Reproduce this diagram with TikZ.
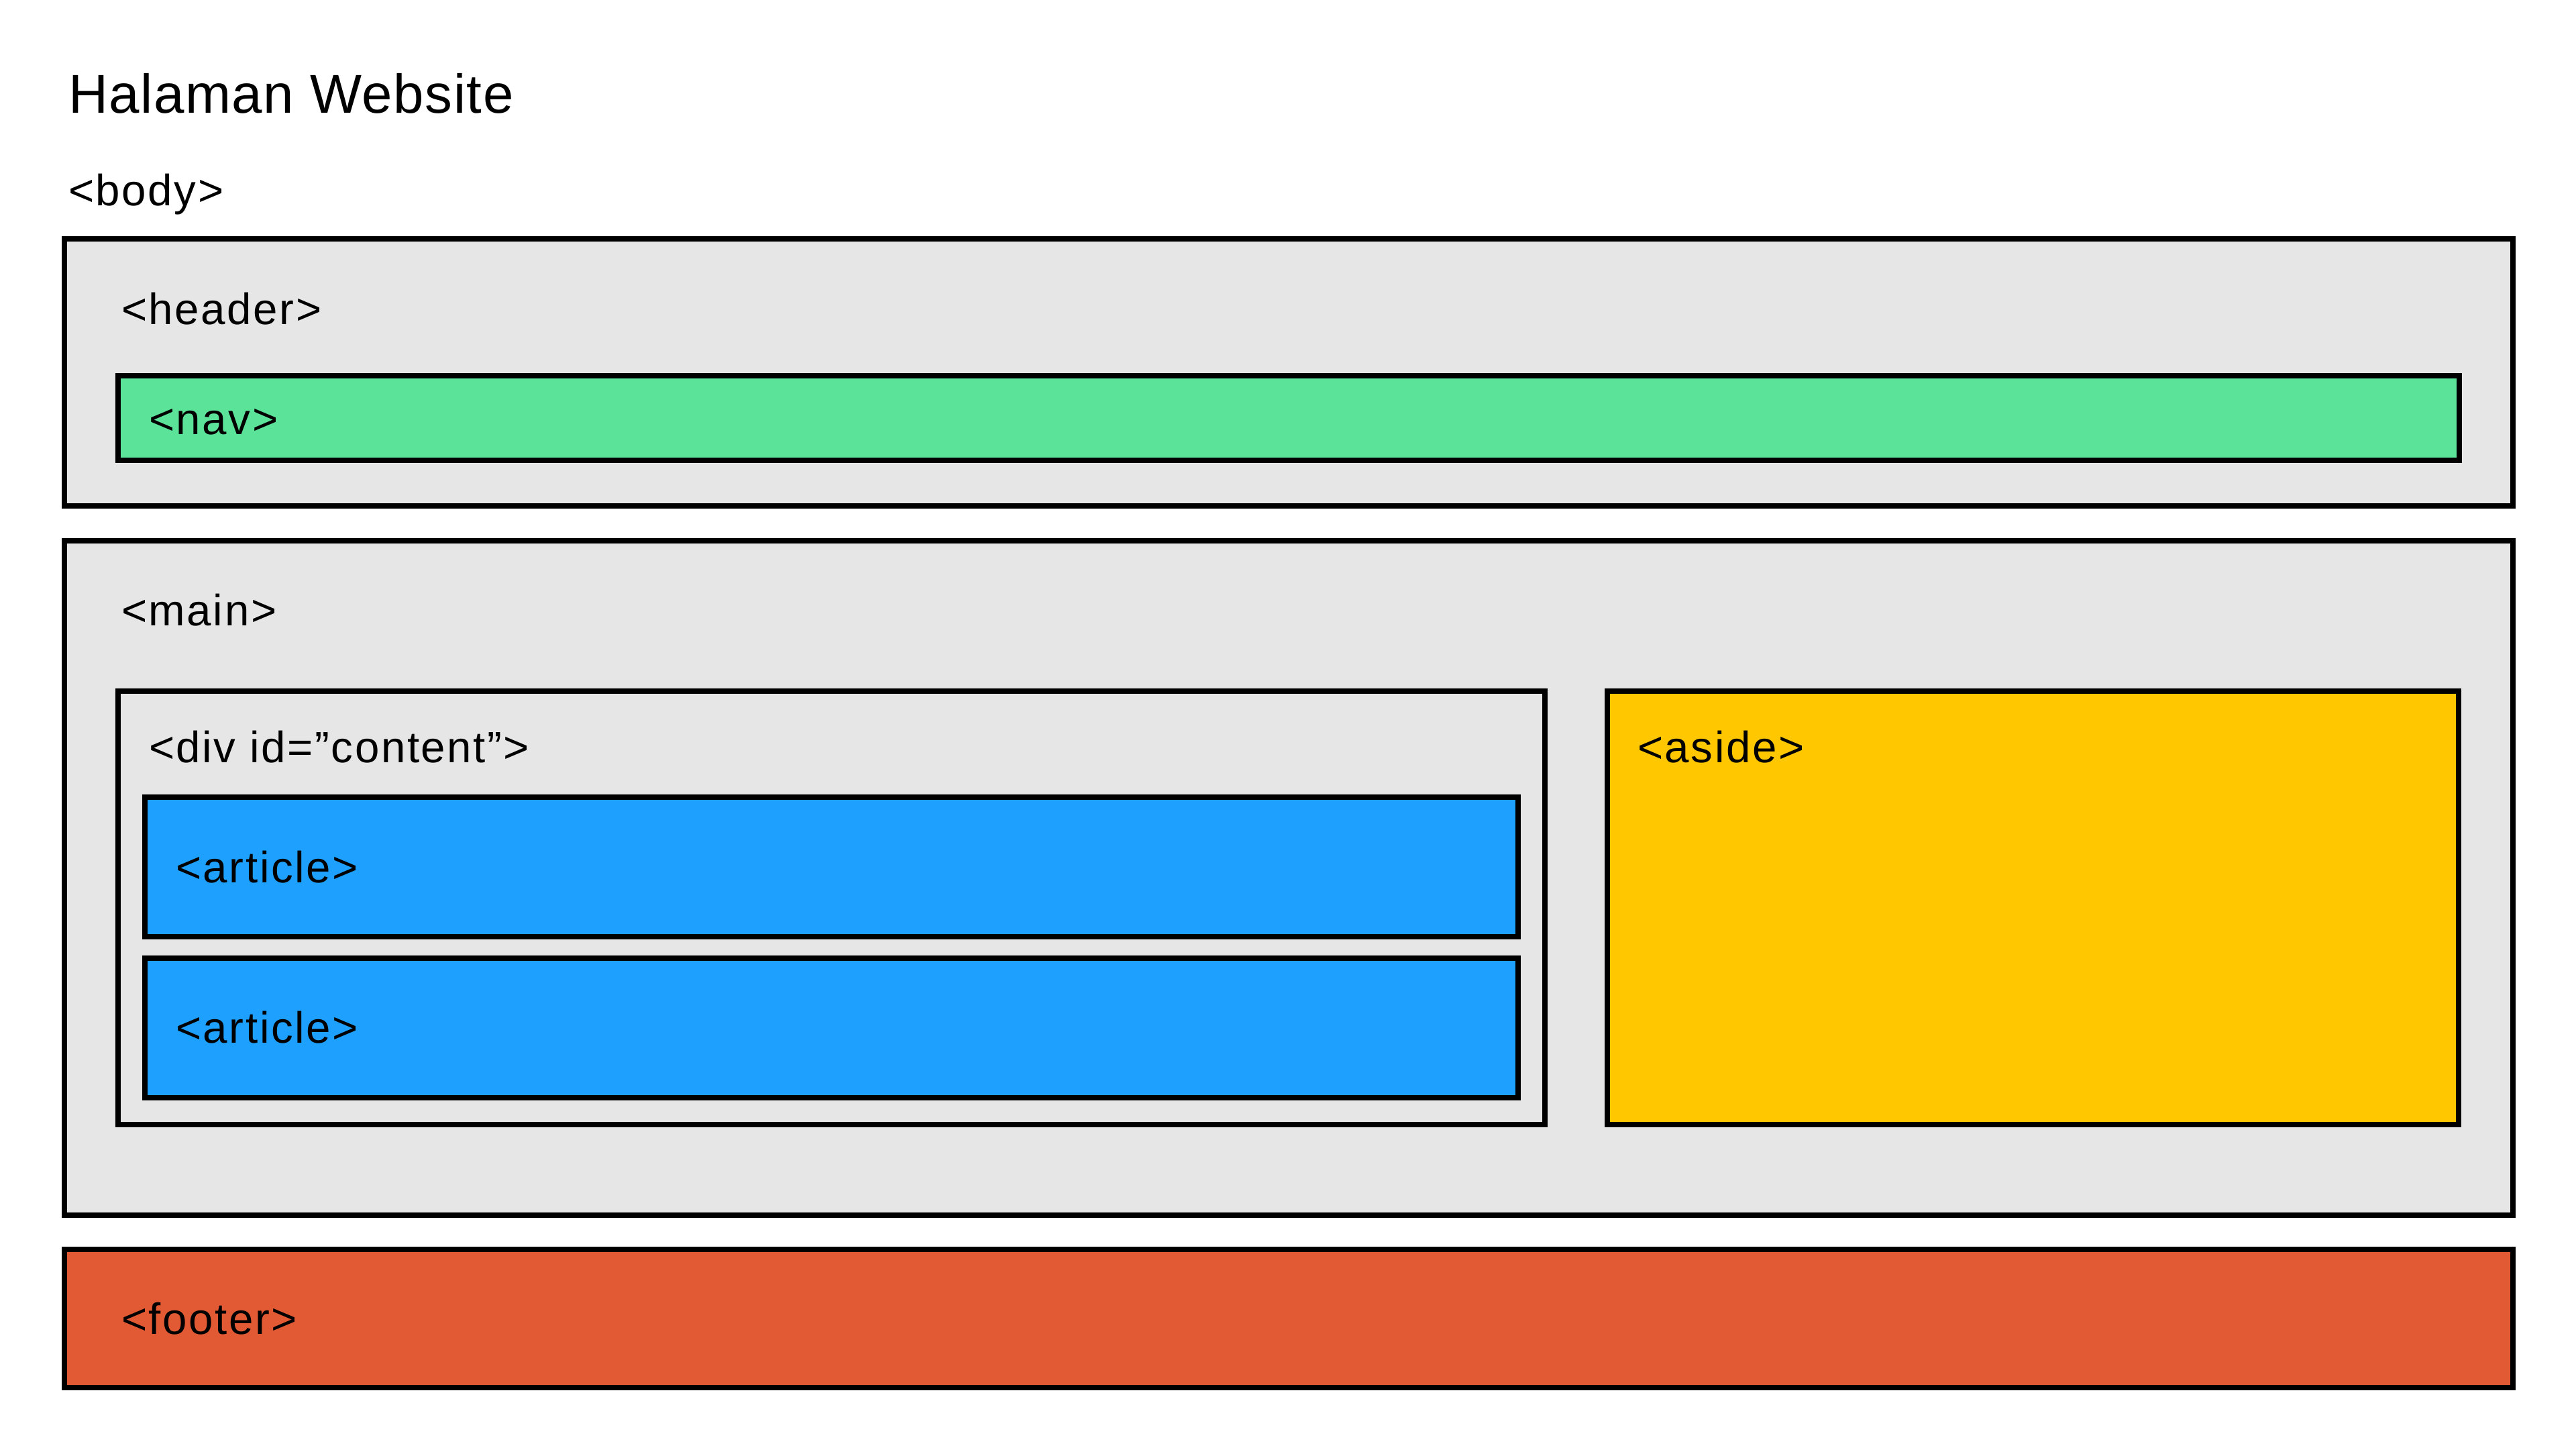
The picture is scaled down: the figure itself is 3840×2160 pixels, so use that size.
\documentclass[tikz,border=0pt]{standalone}
\usepackage{fontspec}
\setmainfont{Liberation Sans}
\newfontfamily\tagfont[LetterSpace=4.0]{Liberation Sans}
\newfontfamily\titlefont[LetterSpace=2.0]{Liberation Sans}
\definecolor{greyfill}{RGB}{230,230,230}
\definecolor{navgreen}{RGB}{92,227,154}
\definecolor{artblue}{RGB}{30,160,255}
\definecolor{asideyellow}{RGB}{255,199,0}
\definecolor{footred}{RGB}{225,90,51}
\tikzset{
  tagbox/.style={draw=black, line width=0.08cm, rectangle, inner sep=0pt, outer sep=0pt, anchor=north west},
  taglabel/.style={anchor=base west, inner sep=0pt, outer sep=0pt, font=\tagfont\fontsize{18.6pt}{22pt}\selectfont},
  titlelabel/.style={anchor=base west, inner sep=0pt, outer sep=0pt, font=\titlefont\fontsize{23.2pt}{28pt}\selectfont}
}
\begin{document}
\begin{tikzpicture}[x=0.01cm, y=-0.01cm]
\useasboundingbox[fill=white] (0,0) rectangle (3840,2160);
% boxes
\node[tagbox, fill=greyfill, minimum width=36.48cm, minimum height=3.98cm] (header) at (96,356) {};
\node[tagbox, fill=navgreen, minimum width=34.88cm, minimum height=1.26cm] (nav) at (176,560) {};
\node[tagbox, fill=greyfill, minimum width=36.48cm, minimum height=10.04cm] (main) at (96,806) {};
\node[tagbox, fill=greyfill, minimum width=21.26cm, minimum height=6.46cm] (content) at (176,1030) {};
\node[tagbox, fill=artblue, minimum width=20.46cm, minimum height=2.08cm] (article1) at (216,1188) {};
\node[tagbox, fill=artblue, minimum width=20.46cm, minimum height=2.08cm] (article2) at (216,1428) {};
\node[tagbox, fill=asideyellow, minimum width=12.68cm, minimum height=6.46cm] (aside) at (2396,1030) {};
\node[tagbox, fill=footred, minimum width=36.48cm, minimum height=2.06cm] (footer) at (96,1862) {};
% labels
\node[titlelabel] (title) at (102,168) {Halaman Website};
\node[taglabel] (bodylbl) at (102,306) {<body>};
\node[taglabel] (headerlbl) at (181,483) {<header>};
\node[taglabel] (navlbl) at (222,647) {<nav>};
\node[taglabel] (mainlbl) at (181,932) {<main>};
\node[taglabel] (contentlbl) at (222,1136) {<div id=”content”>};
\node[taglabel] (article1lbl) at (262,1315) {<article>};
\node[taglabel] (article2lbl) at (262,1554) {<article>};
\node[taglabel] (asidelbl) at (2441,1136) {<aside>};
\node[taglabel] (footerlbl) at (181,1988) {<footer>};
\end{tikzpicture}
\end{document}
